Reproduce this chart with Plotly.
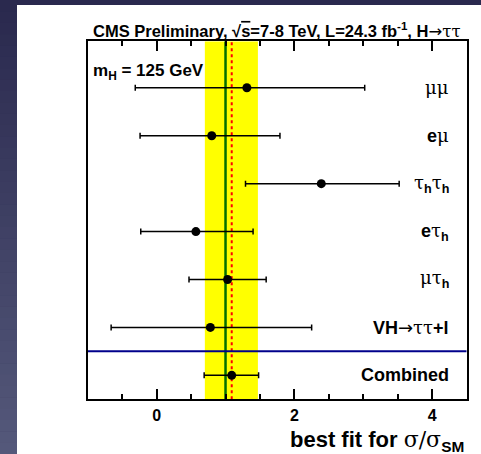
import plotly.graph_objects as go

# ---------------- data ----------------
GR = "<span style='font-family:DejaVu Serif;font-weight:normal'>%s</span>"
AR = "<span style='font-family:DejaVu Sans;font-weight:normal'>%s</span>"
channels = ["μμ", "eμ", "τhτh", "eτh", "μτh", "VH→ττ+l", "Combined"]
label_html = [
    GR % "μμ",
    "<b>e</b>" + GR % "μ",
    GR % "τ" + "<sub><b>h</b></sub>" + GR % "τ" + "<sub><b>h</b></sub>",
    "<b>e</b>" + GR % "τ" + "<sub><b>h</b></sub>",
    GR % "μτ" + "<sub><b>h</b></sub>",
    "<b>VH</b>" + AR % "→" + GR % "ττ" + "<b>+l</b>",
    "<b>Combined</b>",
]
row_pos = [6.5, 5.5, 4.5, 3.5, 2.5, 1.5, 0.5]
best_fit = [1.31, 0.80, 2.39, 0.57, 1.03, 0.78, 1.09]
err_low = [-0.31, -0.24, 1.29, -0.23, 0.47, -0.66, 0.69]
err_high = [3.02, 1.79, 3.52, 1.40, 1.59, 2.25, 1.48]

combined_band = [0.70, 1.47]
sm_value = 1.0
combined_value = 1.09
separator_y = 1.0

x_range = [-1.0, 4.5]
y_range = [0.0, 7.47]
x_tickvals = [0, 2, 4]
x_ticktext = ["0", "2", "4"]

title_text = ("<b>CMS Preliminary, √<span style='text-decoration:overline'>s</span>=7-8 TeV, "
              "L=24.3 fb<sup>-1</sup>, H</b>" + AR % "→" + GR % "ττ")
mass_text = "<b>m<sub>H</sub> = 125 GeV</b>"
xtitle_text = "<b>best fit for </b>" + GR % "σ/σ" + "<sub><b>SM</b></sub>"

# ---------------- figure ----------------
W, H = 481, 454
fig = go.Figure()

plus = [h - v for h, v in zip(err_high, best_fit)]
minus = [v - l for v, l in zip(best_fit, err_low)]

fig.add_trace(go.Scatter(
    x=best_fit, y=row_pos, mode="markers",
    marker=dict(color="black", size=9),
    error_x=dict(type="data", symmetric=False, array=plus, arrayminus=minus,
                 color="black", thickness=1.5, width=3),
    showlegend=False, hoverinfo="skip",
))

shapes = []
# background gradient (slide)
top_c = (42, 41, 78)
bot_c = (84, 88, 122)
n = 40
strip_w = 17 / W
for i in range(n):
    t = i / (n - 1)
    c = tuple(int(round(top_c[k] + (bot_c[k] - top_c[k]) * t)) for k in range(3))
    y1 = 1 - i / n
    y0 = 1 - (i + 1) / n
    shapes.append(dict(type="rect", xref="paper", yref="paper", x0=0, x1=strip_w + 0.001,
                       y0=y0 - 0.001, y1=y1, fillcolor="rgb(%d,%d,%d)" % c, line_width=0, layer="below"))
shapes.append(dict(type="rect", xref="paper", yref="paper", x0=strip_w, x1=1,
                   y0=0, y1=(H - 5) / H, fillcolor="white", line_width=0, layer="below"))
# combined uncertainty band
shapes.append(dict(type="rect", xref="x", yref="y", x0=combined_band[0], x1=combined_band[1],
                   y0=y_range[0], y1=y_range[1], fillcolor="#ffff00", line_width=0, layer="below"))
# SM line
shapes.append(dict(type="line", xref="x", yref="y", x0=sm_value, x1=sm_value,
                   y0=y_range[0], y1=y_range[1], line=dict(color="#007000", width=2.5), layer="below"))
# combined best fit
shapes.append(dict(type="line", xref="x", yref="y", x0=combined_value, x1=combined_value,
                   y0=y_range[0], y1=y_range[1], line=dict(color="#ff0000", width=2, dash="dot"), layer="below"))
# separator
shapes.append(dict(type="line", xref="x", yref="y", x0=x_range[0], x1=x_range[1],
                   y0=separator_y, y1=separator_y, line=dict(color="#00008b", width=2), layer="below"))

annotations = []
for lab, y in zip(label_html, row_pos):
    annotations.append(dict(x=4.27, y=y, xref="x", yref="y", text=lab, showarrow=False,
                            xanchor="right", yanchor="middle",
                            font=dict(family="Liberation Sans", size=18, color="black")))
annotations.append(dict(x=276.5 / W, y=1 - 31 / H, xref="paper", yref="paper", text=title_text,
                        showarrow=False, xanchor="center", yanchor="middle",
                        font=dict(family="Liberation Sans", size=16.5, color="black")))
annotations.append(dict(x=91 / W, y=1 - 72 / H, xref="paper", yref="paper", text=mass_text,
                        showarrow=False, xanchor="left", yanchor="middle",
                        font=dict(family="Liberation Sans", size=17, color="black")))
annotations.append(dict(x=466 / W, y=1 - 441 / H, xref="paper", yref="paper", text=xtitle_text,
                        showarrow=False, xanchor="right", yanchor="middle",
                        font=dict(family="Liberation Sans", size=22, color="black")))

fig.update_layout(
    width=W, height=H,
    margin=dict(l=0, r=0, t=0, b=0),
    paper_bgcolor="rgb(42,41,78)",
    plot_bgcolor="rgba(0,0,0,0)",
    shapes=shapes,
    annotations=annotations,
    xaxis=dict(
        domain=[87.7 / W, 466.7 / W], range=x_range, showgrid=False, zeroline=False,
        showline=True, linecolor="black", linewidth=2, mirror="ticks",
        ticks="inside", ticklen=10, tickwidth=2, tickcolor="black",
        tickvals=x_tickvals, ticktext=["<b>%s</b>" % t for t in x_ticktext],
        tickfont=dict(family="Liberation Sans", size=16, color="black"),
        minor=dict(ticks="inside", dtick=0.5, tick0=0, ticklen=5, tickwidth=2, tickcolor="black", showgrid=False),
    ),
    yaxis=dict(
        domain=[(H - 399.3) / H, (H - 41.3) / H], range=y_range, showgrid=False, zeroline=False,
        showline=True, linecolor="black", linewidth=2, mirror=True,
        ticks="", showticklabels=False,
    ),
)

fig.write_html("out.html")
